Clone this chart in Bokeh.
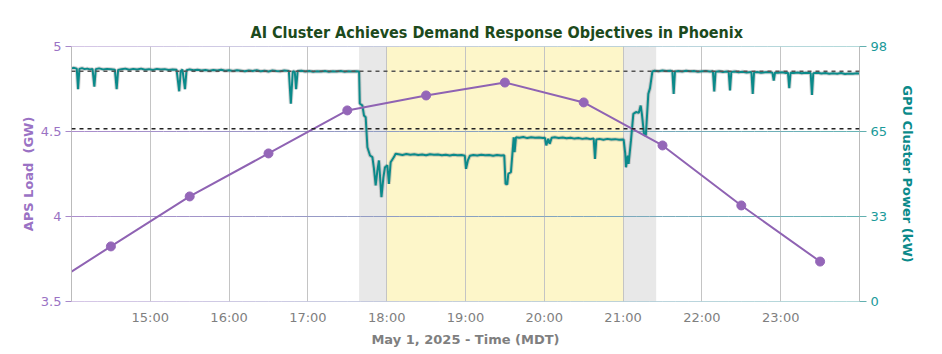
from bokeh.plotting import figure
from bokeh.models import (Range1d, LinearAxis, FixedTicker, BoxAnnotation, Span,
                          NumeralTickFormatter)
from bokeh.embed import file_html
from bokeh.resources import INLINE

# ---------------- data ----------------
title_text = "AI Cluster Achieves Demand Response Objectives in Phoenix"
x_label = "May 1, 2025 - Time (MDT)"
left_label = "APS Load\u00a0\u00a0(GW)"
right_label = "GPU Cluster Power (kW)"

x_ticks = [15, 16, 17, 18, 19, 20, 21, 22, 23]
x_tick_labels = ["15:00", "16:00", "17:00", "18:00", "19:00", "20:00", "21:00", "22:00", "23:00"]
left_ticks = [3.5, 4.0, 4.5, 5.0]
right_ticks = [0, 98 / 3, 196 / 3, 98]

# APS load (GW), hourly half-hour readings (first value is the start of the window)
aps_hours = [14.0, 14.5, 15.5, 16.5, 17.5, 18.5, 19.5, 20.5, 21.5, 22.5, 23.5]
aps_gw = [3.676, 3.824, 4.118, 4.371, 4.624, 4.712, 4.788, 4.671, 4.418, 4.065, 3.735]

# Event windows (hours)
ramp_down = [17.65, 18.0]
dr_window = [18.0, 21.0]
ramp_up = [21.0, 21.42]

# Reference power levels (kW)
baseline_kw = 88.5
target_kw = 66.4

# GPU cluster power: minutes after 14:00 and kW
gpu_minutes = [
    0, 2, 4, 5, 6, 8, 10, 12, 14, 16, 17.4, 18.5, 21, 24, 27, 30, 33, 34.4, 35.5, 38,
    41, 44, 47, 50, 53, 56, 59, 62, 65, 68, 71, 74, 77, 80, 82, 83.2, 84.5, 86.4, 87.6, 90,
    93, 96, 99, 102, 105, 108, 111, 114, 117, 120, 123, 126, 129, 132, 135, 138, 141, 144, 147, 150,
    153, 156, 159, 162, 165.5, 167, 168.5, 170, 171, 172.2, 175, 178, 181, 184, 187, 190, 193, 196, 199, 202,
    205, 208, 211, 214, 217, 219,
    219.5, 221.5, 222.7, 224, 225.3, 227.3, 229.1, 230.3, 231.6, 232.9, 234.1, 236, 237.5, 238.7, 240.5,
    241.7, 243, 245.5, 246.8,
    249, 252, 255, 258, 261, 264, 267, 270, 273, 276, 279, 282, 285, 288, 291, 294, 297, 299.5,
    300.4, 301.8, 303.3, 306, 309, 312, 315, 318, 321, 324, 327, 329.5,
    330.5, 331.8, 332.6, 334.6, 336.7, 337.4, 338.4,
    341, 344, 347, 350, 353, 356, 359, 360.5, 361.5, 363, 364.1, 365.6, 368, 371, 374, 377, 380, 383,
    386, 389, 392, 395, 397.6, 398.6, 399.6, 402, 405, 408, 411, 414, 417, 419.8,
    420.4, 421.6, 422.2, 423.5, 424.2, 426.0, 427.8, 429.8, 432.0, 433.4, 434.3, 435.9, 437.3, 439.2,
    440.5, 442.3,
    444, 447, 450, 453, 456, 457.5, 458.5, 459.5, 462, 465, 468, 471, 474, 477, 480, 483, 486, 488.4,
    489.4, 490.4, 493, 496, 499, 500.4, 501.4, 502.4, 505, 508, 511, 514, 517.7, 518.7, 519.7, 522,
    525, 528, 531, 533.7, 534.7, 535.7, 538, 541, 544, 545.5, 546.5, 547.5, 550, 553, 556, 559, 562.8,
    563.8, 564.8, 568, 571, 574, 577, 580, 583, 586, 589, 592, 595, 598, 600,
]
gpu_kw = [
    89.6, 89.8, 89.5, 81.6, 89.4, 89.7, 89.3, 89.5, 89.2, 89.4, 82.6, 89.3, 89.6, 89.2, 89.4, 89.3, 89.1, 81.6, 89.0, 89.3,
    89.5, 89.1, 89.4, 89.2, 89.5, 89.1, 89.3, 89.0, 89.4, 89.2, 89.3, 89.0, 89.2, 89.1, 80.8, 88.6, 89.1, 81.6, 88.9, 89.2,
    88.9, 89.1, 88.8, 89.0, 88.7, 89.0, 88.8, 89.1, 88.7, 88.9, 88.6, 88.9, 88.7, 88.5, 88.8, 88.6, 88.9, 88.5, 88.7, 88.4,
    88.8, 88.6, 88.5, 88.8, 88.6, 76.0, 88.5, 88.3, 81.6, 88.6, 88.7, 88.4, 88.6, 88.3, 88.5, 88.4, 88.6, 88.3, 88.5, 88.4,
    88.6, 88.3, 88.5, 88.4, 88.5, 88.4,
    76.1, 75.3, 71.5, 70.8, 59.3, 56.1, 55.5, 51.1, 44.6, 50.3, 54.2, 40.1, 47.8, 51.6, 52.3,
    45.2, 53.5, 55.5, 56.8,
    56.6, 56.3, 56.7, 56.4, 56.6, 56.3, 56.5, 56.2, 56.6, 56.4, 56.5, 56.2, 56.4, 56.1, 56.4, 56.2, 56.3, 56.0,
    51.0, 54.2, 56.0, 56.3, 56.1, 56.4, 56.2, 56.3, 56.0, 56.3, 56.1, 56.2,
    45.2, 45.0, 49.1, 49.7, 63.1, 57.4, 63.1,
    62.9, 63.2, 62.8, 63.1, 62.9, 63.0, 62.8, 62.9, 60.0, 62.5, 60.6, 62.9, 63.1, 62.8, 63.0, 62.7, 62.9, 62.6,
    62.8, 62.5, 62.7, 62.4, 62.6, 54.8, 62.3, 62.5, 62.2, 62.5, 62.3, 62.4, 62.2, 62.3,
    62.2, 57.0, 51.6, 56.1, 52.9, 61.9, 72.1, 72.8, 72.5, 75.3, 72.1, 64.5, 63.8, 79.8,
    82.0, 88.4,
    88.7, 88.5, 88.8, 88.6, 88.7, 88.5, 79.8, 88.4, 88.6, 88.4, 88.7, 88.5, 88.6, 88.3, 88.5, 88.6, 88.4, 88.5,
    80.7, 88.3, 88.5, 88.2, 88.4, 88.3, 81.1, 88.2, 88.4, 88.1, 88.3, 88.0, 88.2, 79.8, 88.0, 88.2,
    87.9, 88.1, 88.2, 87.9, 84.9, 88.0, 87.9, 88.1, 87.8, 88.0, 82.0, 87.9, 87.8, 88.0, 87.7, 87.9, 87.8,
    79.4, 87.7, 87.9, 87.6, 87.8, 87.5, 87.7, 87.5, 87.8, 87.4, 87.6, 87.5, 87.7, 87.6,
]

# ---------------- styles ----------------
PURPLE = "#8f63b3"
PURPLE_TXT = "#9a72c4"
TEAL = "#0b8a8a"
TEAL_TXT = "#1a9a9a"
GRAY_TXT = "#7f7f7f"
FONT = "DejaVu Sans"

x_start, x_end = 14, 24

p = figure(width=942, height=354, output_backend="svg", toolbar_location=None,
           x_range=Range1d(x_start, x_end), y_range=Range1d(3.5, 5.0),
           frame_width=788, frame_height=255,
           min_border_left=71, min_border_right=83, min_border_top=46, min_border_bottom=53)
p.outline_line_color = None
p.background_fill_color = "white"
p.border_fill_color = "white"

p.extra_y_ranges = {"gpu": Range1d(0, 98)}

# title
p.title.text = title_text
p.title.align = "left"
p.title.text_font = "DejaVu Sans Condensed"
p.title.text_font_style = "bold"
p.title.text_font_size = "16px"
p.title.text_color = "#1c4a1c"
p.title.offset = 179
p.title.standoff = 10

# shaded windows
p.add_layout(BoxAnnotation(left=ramp_down[0], right=ramp_down[1], fill_color="#e8e8e8",
                           fill_alpha=1, line_color=None, level="image"))
p.add_layout(BoxAnnotation(left=ramp_up[0], right=ramp_up[1], fill_color="#e8e8e8",
                           fill_alpha=1, line_color=None, level="image"))
p.add_layout(BoxAnnotation(left=dr_window[0], right=dr_window[1], fill_color="#fdf6c9",
                           fill_alpha=1, line_color=None, level="image"))

# grids
p.xgrid.ticker = FixedTicker(ticks=x_ticks)
p.xgrid.grid_line_color = "#c4c4c4"
p.xgrid.grid_line_width = 1
p.ygrid.grid_line_color = None

# gradient horizontal grid lines (purple on left -> teal on right)
c0 = (172, 142, 205)
c1 = (104, 180, 182)
n_seg = 60
xs0, xs1, ys, cols = [], [], [], []
for yv in left_ticks:
    for i in range(n_seg):
        f = i / (n_seg - 1)
        xs0.append(x_start + (x_end - x_start) * i / n_seg)
        xs1.append(x_start + (x_end - x_start) * (i + 1) / n_seg)
        ys.append(yv)
        cols.append("#%02x%02x%02x" % tuple(int(round(a + (b - a) * f)) for a, b in zip(c0, c1)))
p.segment(x0=xs0, x1=xs1, y0=ys, y1=ys, line_color=cols, line_width=1.2)

# reference dashed levels
p.add_layout(Span(location=baseline_kw, dimension="width", y_range_name="gpu",
                  line_color="#555555", line_dash="4 4", line_width=1.5))
p.add_layout(Span(location=target_kw, dimension="width", y_range_name="gpu",
                  line_color="#222222", line_dash="4 4", line_width=1.5))

# GPU power line
gpu_hours = [x_start + m / 60 for m in gpu_minutes]
p.line(gpu_hours, gpu_kw, y_range_name="gpu", line_color="#888888", line_alpha=0.35, line_width=4)
p.line(gpu_hours, gpu_kw, y_range_name="gpu", line_color=TEAL, line_width=2)

# APS load line
p.line(aps_hours, aps_gw, line_color=PURPLE, line_width=2)
p.scatter(aps_hours[1:], aps_gw[1:], size=9, fill_color="#9466b8", line_color="#9466b8")

# axes
xa = p.xaxis[0]
xa.ticker = FixedTicker(ticks=x_ticks)
xa.major_label_overrides = {t: l for t, l in zip(x_ticks, x_tick_labels)}
xa.axis_line_color = None
xa.major_tick_line_color = None
xa.minor_tick_line_color = None
xa.major_label_text_font = FONT
xa.major_label_text_font_size = "13px"
xa.major_label_text_color = GRAY_TXT
xa.major_label_standoff = 2
xa.axis_label = x_label
xa.axis_label_text_font = FONT
xa.axis_label_text_font_style = "bold"
xa.axis_label_text_font_size = "13px"
xa.axis_label_text_color = GRAY_TXT
xa.axis_label_standoff = 4

ya = p.yaxis[0]
ya.ticker = FixedTicker(ticks=left_ticks)
ya.formatter = NumeralTickFormatter(format="0.[0]")
ya.axis_line_color = "#bbbbbb"
ya.major_tick_line_color = "#a888ca"
ya.major_tick_out = 6
ya.major_tick_in = 0
ya.minor_tick_line_color = None
ya.major_label_text_font = FONT
ya.major_label_text_font_size = "13px"
ya.major_label_text_color = PURPLE_TXT
ya.major_label_standoff = 4
ya.axis_label = left_label
ya.axis_label_text_font = FONT
ya.axis_label_text_font_style = "bold"
ya.axis_label_text_font_size = "13px"
ya.axis_label_text_color = PURPLE_TXT
ya.axis_label_standoff = 2

ra = LinearAxis(y_range_name="gpu")
ra.ticker = FixedTicker(ticks=right_ticks)
ra.formatter = NumeralTickFormatter(format="0")
ra.axis_line_color = "#bbbbbb"
ra.major_tick_line_color = "#62b0b0"
ra.major_tick_out = 7
ra.major_tick_in = 0
ra.minor_tick_line_color = None
ra.major_label_text_font = FONT
ra.major_label_text_font_size = "13px"
ra.major_label_text_color = TEAL_TXT
ra.major_label_standoff = 4
ra.axis_label = right_label
ra.axis_label_text_font = FONT
ra.axis_label_text_font_style = "bold"
ra.axis_label_text_font_size = "13px"
ra.axis_label_text_color = TEAL
ra.axis_label_standoff = 10
p.add_layout(ra, "right")

open("out.html", "w").write(file_html(p, INLINE))
